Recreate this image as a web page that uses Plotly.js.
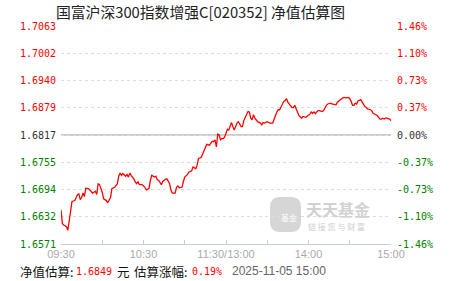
<!DOCTYPE html>
<html>
<head>
<meta charset="utf-8">
<script src="https://cdn.plot.ly/plotly-3.0.1.min.js"></script>
<style>
html,body{margin:0;padding:0;background:#fff;}
#chart{width:451px;height:281px;}
</style>
</head>
<body>
<div id="chart"></div>
<script>
// ---- data ----
var minutes = [0,1,2,4,5,6,7,8,10,11,12,13,14,15,16,17,18,20,22,23,25,26,27,28,30,31,33,34,36,37,39,41,42,43,44,45,47,48,49,50,51,53,54,55,56,57,59,61,62,64,65,66,68,69,70,71,73,74,76,77,79,80,81,83,84,85,86,88,89,90,92,93,95,96,98,99,100,102,103,104,105,106,108,110,111,112,113,114,115,116,117,118,119,120,121,122,123,124,125,126,128,129,131,132,133,135,136,137,138,139,140,141,142,143,145,146,147,148,150,151,152,154,155,156,157,158,159,160,162,163,164,165,167,168,169,170,171,172,173,175,176,178,179,181,182,183,184,185,186,187,188,190,191,192,193,194,196,197,199,200,201,203,205,206,207,209,210,211,212,213,214,215,216,218,219,220,221,222,223,225,226,227,228,230,231,232,233,234,235,236,237,239,240];
var navs = [1.6648,1.6617,1.6614,1.6610,1.6602,1.6623,1.6651,1.6667,1.6669,1.6675,1.6682,1.6684,1.6671,1.6676,1.6686,1.6678,1.6697,1.6696,1.6690,1.6686,1.6690,1.6683,1.6707,1.6705,1.6688,1.6673,1.6669,1.6664,1.6676,1.6696,1.6699,1.6707,1.6724,1.6731,1.6726,1.6730,1.6724,1.6728,1.6722,1.6731,1.6726,1.6718,1.6711,1.6707,1.6711,1.6705,1.6705,1.6699,1.6693,1.6696,1.6715,1.6726,1.6722,1.6724,1.6716,1.6715,1.6705,1.6712,1.6717,1.6718,1.6707,1.6692,1.6686,1.6686,1.6699,1.6702,1.6698,1.6699,1.6712,1.6722,1.6728,1.6733,1.6736,1.6745,1.6741,1.6749,1.6764,1.6766,1.6774,1.6783,1.6792,1.6796,1.6794,1.6803,1.6802,1.6806,1.6790,1.6819,1.6817,1.6806,1.6809,1.6809,1.6812,1.6823,1.6830,1.6828,1.6838,1.6845,1.6836,1.6828,1.6844,1.6847,1.6836,1.6836,1.6850,1.6866,1.6870,1.6869,1.6855,1.6851,1.6863,1.6855,1.6850,1.6847,1.6844,1.6840,1.6845,1.6844,1.6847,1.6845,1.6844,1.6844,1.6855,1.6861,1.6869,1.6874,1.6874,1.6881,1.6893,1.6895,1.6899,1.6891,1.6884,1.6879,1.6879,1.6884,1.6876,1.6870,1.6861,1.6855,1.6859,1.6857,1.6859,1.6864,1.6869,1.6866,1.6869,1.6865,1.6869,1.6872,1.6872,1.6870,1.6872,1.6879,1.6884,1.6887,1.6889,1.6887,1.6885,1.6885,1.6891,1.6897,1.6901,1.6902,1.6901,1.6902,1.6899,1.6893,1.6884,1.6884,1.6889,1.6887,1.6894,1.6897,1.6891,1.6885,1.6881,1.6879,1.6876,1.6874,1.6872,1.6866,1.6864,1.6861,1.6857,1.6853,1.6853,1.6855,1.6853,1.6855,1.6855,1.6853,1.6849];
var baseNav = 1.6817;
var navTicks = [1.7063,1.7002,1.6940,1.6879,1.6817,1.6755,1.6694,1.6632,1.6571];
var navTickText = ['1.7063','1.7002','1.6940','1.6879','1.6817','1.6755','1.6694','1.6632','1.6571'];
var pctTickText = ['1.46%','1.10%','0.73%','0.37%','0.00%','-0.37%','-0.73%','-1.10%','-1.46%'];
var timeTicks = [0,30,60,90,120,150,180,210,240];
var timeTickText = ['09:30','','10:30','','11:30/13:00','','14:00','','15:00'];
var titleText = '国富沪深300指数增强C[020352] 净值估算图';
var estNav = '1.6849';
var estPct = '0.19%';
var stamp = '2025-11-05 15:00';

// ---- layout helpers (pixel -> paper) ----
var L = 61, R = 391, T = 26, B = 244;
function px(x){ return (x - L) / (R - L); }
function py(y){ return (B - y) / (B - T); }

var RED = '#ff0000', GREEN = '#008000', DARK = '#333333';
var mono = 'DejaVu Sans Mono, monospace';
var cjk = 'Noto Sans CJK SC, sans-serif';

var annotations = [];
navTicks.forEach(function(v, i){
  var c = v > baseNav ? RED : (v < baseNav ? GREEN : DARK);
  annotations.push({xref:'paper', yref:'y', x:0, y:v, xanchor:'right', yanchor:'middle',
    xshift:-3, text:navTickText[i], showarrow:false, font:{family:mono, size:10, color:c}});
  annotations.push({xref:'paper', yref:'y', x:1, y:v, xanchor:'left', yanchor:'middle',
    xshift:4, text:pctTickText[i], showarrow:false, font:{family:mono, size:10, color:c}});
});

function txt(x, y, s, font){
  annotations.push({xref:'paper', yref:'paper', x:px(x), y:py(y), xanchor:'left', yanchor:'middle',
    text:s, showarrow:false, font:font});
}
// footer
txt(18, 271, '净值估算:', {family:cjk, size:12.5, color:'#111'});
txt(74, 271, estNav, {family:mono, size:10, color:RED});
txt(115, 271, '元', {family:cjk, size:12.5, color:'#111'});
txt(132, 271, '估算涨幅:', {family:cjk, size:12.5, color:'#111'});
txt(190, 271, estPct, {family:mono, size:10, color:RED});
txt(230, 271, stamp, {family:'Liberation Sans, Arial, sans-serif', size:12, color:'#666'});
// watermark
txt(304, 209, '<b>天天基金</b>', {family:cjk, size:16, color:'#d2d2d2'});
txt(306, 226.5, '链 接 您 与 财 富', {family:cjk, size:8, color:'#d0d0d0'});
txt(279, 217, '基金', {family:cjk, size:8, color:'#ffffff'});

// watermark icon: rounded square
var x0 = px(270), x1 = px(301), y0 = py(232), y1 = py(197);
var rx = (x1 - x0) * 0.3, ry = (y1 - y0) * 0.3;
var iconPath = 'M' + (x0+rx) + ',' + y0 + ' L' + (x1-rx) + ',' + y0 +
  ' Q' + x1 + ',' + y0 + ' ' + x1 + ',' + (y0+ry) + ' L' + x1 + ',' + (y1-ry) +
  ' Q' + x1 + ',' + y1 + ' ' + (x1-rx) + ',' + y1 + ' L' + (x0+rx) + ',' + y1 +
  ' Q' + x0 + ',' + y1 + ' ' + x0 + ',' + (y1-ry) + ' L' + x0 + ',' + (y0+ry) +
  ' Q' + x0 + ',' + y0 + ' ' + (x0+rx) + ',' + y0 + ' Z';

var shapes = [
  {type:'path', xref:'paper', yref:'paper', path:iconPath, fillcolor:'#d6d6d6', line:{width:0}, layer:'below'},
  {type:'line', xref:'paper', yref:'y', x0:0, x1:1, y0:baseNav, y1:baseNav,
   line:{color:'#999999', width:1.2}, layer:'below'}
];

var trace = {
  x: minutes, y: navs, type:'scatter', mode:'lines',
  line:{color:'#ff0000', width:1.3}, hoverinfo:'skip'
};

var layout = {
  width:451, height:281,
  margin:{l:L, r:451-R, t:T, b:281-B},
  paper_bgcolor:'#ffffff', plot_bgcolor:'rgba(0,0,0,0)',
  showlegend:false,
  title:{text:titleText, x:56/451, xanchor:'left', xref:'container', y:1-12.5/281, yanchor:'middle', yref:'container',
    font:{family:cjk, size:14.8, color:'#222'}},
  xaxis:{range:[0,240], tickvals:timeTicks, ticktext:timeTickText, showgrid:false, zeroline:false,
    showline:true, linecolor:'#c3cfdb', linewidth:1, ticks:'inside', ticklen:4, tickcolor:'#c3cfdb',
    tickfont:{family:'Liberation Sans, Arial, sans-serif', size:11, color:'#aaaaaa'}, fixedrange:true},
  yaxis:{range:[1.6571,1.7063], tickvals:navTicks, showticklabels:false, showgrid:true,
    gridcolor:'#dddddd', griddash:'dot', gridwidth:1, zeroline:false, showline:false, ticks:'', fixedrange:true},
  annotations:annotations,
  shapes:shapes
};

Plotly.newPlot('chart', [trace], layout, {staticPlot:true, displayModeBar:false});
</script>
</body>
</html>
